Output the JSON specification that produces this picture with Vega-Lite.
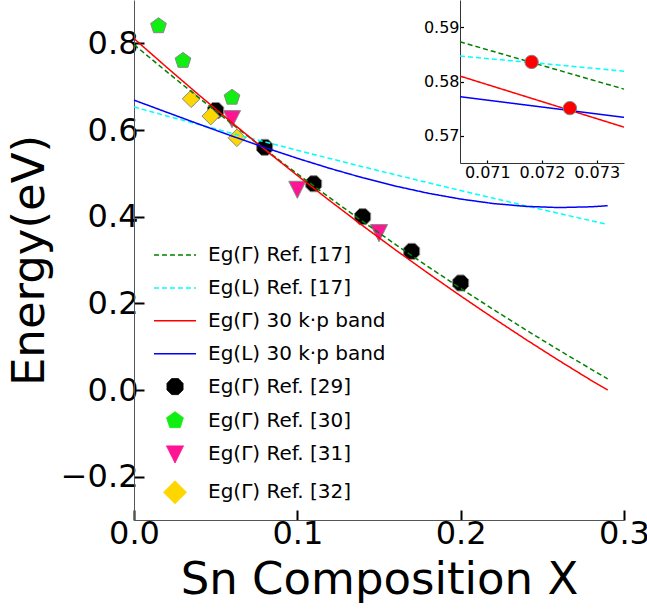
{
  "$schema": "https://vega.github.io/schema/vega-lite/v6.json",
  "width": 490,
  "height": 520,
  "autosize": {"type": "none"},
  "padding": {"left": 134, "top": 0, "right": 23, "bottom": 90},
  "config": {"font": "DejaVu Sans", "view": {"stroke": null}, "axis": {"grid": false, "labelFont": "DejaVu Sans", "titleFont": "DejaVu Sans"}, "legend": {"labelFont": "DejaVu Sans", "labelLimit": 0}},
  "datasets": {
    "lines": [
      {"s": "Eg(Γ) Ref. [17]", "x": 0, "y": 0.797}, {"s": "Eg(Γ) Ref. [17]", "x": 0.02, "y": 0.7346}, {"s": "Eg(Γ) Ref. [17]", "x": 0.04, "y": 0.6736}, {"s": "Eg(Γ) Ref. [17]", "x": 0.06, "y": 0.6137}, {"s": "Eg(Γ) Ref. [17]", "x": 0.08, "y": 0.5557}, {"s": "Eg(Γ) Ref. [17]", "x": 0.10, "y": 0.4988}, {"s": "Eg(Γ) Ref. [17]", "x": 0.12, "y": 0.4432}, {"s": "Eg(Γ) Ref. [17]", "x": 0.14, "y": 0.3890}, {"s": "Eg(Γ) Ref. [17]", "x": 0.16, "y": 0.3362}, {"s": "Eg(Γ) Ref. [17]", "x": 0.18, "y": 0.2847}, {"s": "Eg(Γ) Ref. [17]", "x": 0.20, "y": 0.2346}, {"s": "Eg(Γ) Ref. [17]", "x": 0.22, "y": 0.1858}, {"s": "Eg(Γ) Ref. [17]", "x": 0.24, "y": 0.1384}, {"s": "Eg(Γ) Ref. [17]", "x": 0.26, "y": 0.0924}, {"s": "Eg(Γ) Ref. [17]", "x": 0.28, "y": 0.0477}, {"s": "Eg(Γ) Ref. [17]", "x": 0.29, "y": 0.0259},
      {"s": "Eg(L) Ref. [17]", "x": 0, "y": 0.653}, {"s": "Eg(L) Ref. [17]", "x": 0.02, "y": 0.6325}, {"s": "Eg(L) Ref. [17]", "x": 0.04, "y": 0.6124}, {"s": "Eg(L) Ref. [17]", "x": 0.06, "y": 0.5924}, {"s": "Eg(L) Ref. [17]", "x": 0.08, "y": 0.5728}, {"s": "Eg(L) Ref. [17]", "x": 0.10, "y": 0.5533}, {"s": "Eg(L) Ref. [17]", "x": 0.12, "y": 0.5342}, {"s": "Eg(L) Ref. [17]", "x": 0.14, "y": 0.5153}, {"s": "Eg(L) Ref. [17]", "x": 0.16, "y": 0.4967}, {"s": "Eg(L) Ref. [17]", "x": 0.18, "y": 0.4784}, {"s": "Eg(L) Ref. [17]", "x": 0.20, "y": 0.4603}, {"s": "Eg(L) Ref. [17]", "x": 0.22, "y": 0.4425}, {"s": "Eg(L) Ref. [17]", "x": 0.24, "y": 0.4249}, {"s": "Eg(L) Ref. [17]", "x": 0.26, "y": 0.4076}, {"s": "Eg(L) Ref. [17]", "x": 0.28, "y": 0.3906}, {"s": "Eg(L) Ref. [17]", "x": 0.29, "y": 0.3821},
      {"s": "Eg(Γ) 30 k·p band", "x": 0, "y": 0.811}, {"s": "Eg(Γ) 30 k·p band", "x": 0.02, "y": 0.7448}, {"s": "Eg(Γ) 30 k·p band", "x": 0.04, "y": 0.6800}, {"s": "Eg(Γ) 30 k·p band", "x": 0.06, "y": 0.6168}, {"s": "Eg(Γ) 30 k·p band", "x": 0.08, "y": 0.5552}, {"s": "Eg(Γ) 30 k·p band", "x": 0.10, "y": 0.4950}, {"s": "Eg(Γ) 30 k·p band", "x": 0.12, "y": 0.4364}, {"s": "Eg(Γ) 30 k·p band", "x": 0.14, "y": 0.3792}, {"s": "Eg(Γ) 30 k·p band", "x": 0.16, "y": 0.3236}, {"s": "Eg(Γ) 30 k·p band", "x": 0.18, "y": 0.2696}, {"s": "Eg(Γ) 30 k·p band", "x": 0.20, "y": 0.2170}, {"s": "Eg(Γ) 30 k·p band", "x": 0.22, "y": 0.1660}, {"s": "Eg(Γ) 30 k·p band", "x": 0.24, "y": 0.1164}, {"s": "Eg(Γ) 30 k·p band", "x": 0.26, "y": 0.0684}, {"s": "Eg(Γ) 30 k·p band", "x": 0.28, "y": 0.0220}, {"s": "Eg(Γ) 30 k·p band", "x": 0.29, "y": 0.0},
      {"s": "Eg(L) 30 k·p band", "x": 0, "y": 0.669}, {"s": "Eg(L) 30 k·p band", "x": 0.02, "y": 0.6410}, {"s": "Eg(L) 30 k·p band", "x": 0.04, "y": 0.6132}, {"s": "Eg(L) 30 k·p band", "x": 0.06, "y": 0.5860}, {"s": "Eg(L) 30 k·p band", "x": 0.08, "y": 0.5597}, {"s": "Eg(L) 30 k·p band", "x": 0.10, "y": 0.5347}, {"s": "Eg(L) 30 k·p band", "x": 0.12, "y": 0.5113}, {"s": "Eg(L) 30 k·p band", "x": 0.14, "y": 0.4898}, {"s": "Eg(L) 30 k·p band", "x": 0.16, "y": 0.4707}, {"s": "Eg(L) 30 k·p band", "x": 0.18, "y": 0.4541}, {"s": "Eg(L) 30 k·p band", "x": 0.20, "y": 0.4406}, {"s": "Eg(L) 30 k·p band", "x": 0.22, "y": 0.4303}, {"s": "Eg(L) 30 k·p band", "x": 0.24, "y": 0.4237}, {"s": "Eg(L) 30 k·p band", "x": 0.26, "y": 0.4210}, {"s": "Eg(L) 30 k·p band", "x": 0.28, "y": 0.4228}, {"s": "Eg(L) 30 k·p band", "x": 0.29, "y": 0.4253}
    ],
    "points": [
      {"s": "Eg(Γ) Ref. [29]", "x": 0.05, "y": 0.645}, {"s": "Eg(Γ) Ref. [29]", "x": 0.08, "y": 0.56}, {"s": "Eg(Γ) Ref. [29]", "x": 0.11, "y": 0.476}, {"s": "Eg(Γ) Ref. [29]", "x": 0.14, "y": 0.40}, {"s": "Eg(Γ) Ref. [29]", "x": 0.17, "y": 0.32}, {"s": "Eg(Γ) Ref. [29]", "x": 0.20, "y": 0.247},
      {"s": "Eg(Γ) Ref. [30]", "x": 0.015, "y": 0.84}, {"s": "Eg(Γ) Ref. [30]", "x": 0.03, "y": 0.76}, {"s": "Eg(Γ) Ref. [30]", "x": 0.06, "y": 0.675},
      {"s": "Eg(Γ) Ref. [31]", "x": 0.06, "y": 0.625}, {"s": "Eg(Γ) Ref. [31]", "x": 0.10, "y": 0.462}, {"s": "Eg(Γ) Ref. [31]", "x": 0.15, "y": 0.362},
      {"s": "Eg(Γ) Ref. [32]", "x": 0.035, "y": 0.672}, {"s": "Eg(Γ) Ref. [32]", "x": 0.047, "y": 0.632}, {"s": "Eg(Γ) Ref. [32]", "x": 0.063, "y": 0.582}
    ],
    "insetLines": [
      {"s": "Eg(Γ) Ref. [17]", "x": 0.0705, "y": 0.5873}, {"s": "Eg(Γ) Ref. [17]", "x": 0.0735, "y": 0.5786},
      {"s": "Eg(L) Ref. [17]", "x": 0.0705, "y": 0.5847}, {"s": "Eg(L) Ref. [17]", "x": 0.0735, "y": 0.5819},
      {"s": "Eg(Γ) 30 k·p band", "x": 0.0705, "y": 0.5810}, {"s": "Eg(Γ) 30 k·p band", "x": 0.0735, "y": 0.5716},
      {"s": "Eg(L) 30 k·p band", "x": 0.0705, "y": 0.5772}, {"s": "Eg(L) 30 k·p band", "x": 0.0735, "y": 0.5734}
    ],
    "insetPoints": [
      {"x": 0.07181, "y": 0.5836}, {"x": 0.07251, "y": 0.5751}
    ]
  },
  "layer": [
    {
      "layer": [
        {
          "data": {"name": "points"},
          "mark": {"type": "point", "filled": true, "opacity": 1, "stroke": "#888888", "strokeWidth": 1},
          "encoding": {
            "x": {"field": "x", "type": "quantitative", "scale": {"domain": [0, 0.3], "nice": false, "zero": false},
              "axis": {"orient": "bottom", "values": [0, 0.1, 0.2, 0.3], "format": ".1f", "tickSize": -10, "tickWidth": 2, "tickColor": "black", "domainColor": "#555555", "domainWidth": 1, "labelFontSize": 32, "labelColor": "black", "labelPadding": 8, "labelFlush": false, "labelOverlap": false, "title": "Sn Composition X", "titleFontSize": 45, "titleFontWeight": "normal", "titleColor": "black", "titlePadding": 8}},
            "y": {"field": "y", "type": "quantitative", "scale": {"domain": [-0.3, 0.9], "nice": false, "zero": false},
              "axis": {"orient": "left", "values": [-0.2, 0, 0.2, 0.4, 0.6, 0.8], "format": ".1f", "tickSize": -10, "tickWidth": 2, "tickColor": "black", "domainColor": "#555555", "domainWidth": 1, "labelFontSize": 32, "labelColor": "black", "labelPadding": 6, "labelFlush": false, "labelOverlap": false, "title": "Energy(eV)", "titleFontSize": 45, "titleFontWeight": "normal", "titleColor": "black", "titlePadding": 8}},
            "color": {"field": "s", "type": "nominal",
              "scale": {"domain": ["Eg(Γ) Ref. [17]", "Eg(L) Ref. [17]", "Eg(Γ) 30 k·p band", "Eg(L) 30 k·p band", "Eg(Γ) Ref. [29]", "Eg(Γ) Ref. [30]", "Eg(Γ) Ref. [31]", "Eg(Γ) Ref. [32]"],
                        "range": ["#008000", "#00ffff", "#ff0000", "#0000ff", "#000000", "#11ee11", "#ff1493", "#ffd700"]},
              "legend": {"orient": "none", "legendX": 31, "legendY": 245, "padding": 0, "title": null, "labelFontSize": 20, "labelColor": "black", "labelLimit": 0, "symbolSize": 225, "labelOffset": 23, "rowPadding": 12.9,
                "encode": {"symbols": {"update": {
                  "size": {"signal": "datum.index < 4 ? 1764 : datum.index == 7 ? 530 : datum.index == 5 ? 310 : datum.index == 6 ? 290 : 256"},
                  "stroke": {"signal": "datum.index < 4 ? scale('color', datum.value) : '#888888'"},
                  "strokeDash": {"signal": "datum.index < 2 ? [5, 3] : [1, 0]"},
                  "strokeWidth": {"signal": "datum.index < 4 ? 1.5 : 1"},
                  "opacity": {"value": 1}
                }}}}},
            "shape": {"field": "s", "type": "nominal",
              "scale": {"domain": ["Eg(Γ) Ref. [17]", "Eg(L) Ref. [17]", "Eg(Γ) 30 k·p band", "Eg(L) 30 k·p band", "Eg(Γ) Ref. [29]", "Eg(Γ) Ref. [30]", "Eg(Γ) Ref. [31]", "Eg(Γ) Ref. [32]"],
                        "range": ["stroke", "stroke", "stroke", "stroke",
                                  "M-0.414,-1L0.414,-1L1,-0.414L1,0.414L0.414,1L-0.414,1L-1,0.414L-1,-0.414Z",
                                  "M0,-1L0.951,-0.309L0.588,0.809L-0.588,0.809L-0.951,-0.309Z",
                                  "M-1,-1L1,-1L0,1Z",
                                  "M0,-1L1,0L0,1L-1,0Z"]},
              "legend": {"orient": "none", "legendX": 31, "legendY": 245, "padding": 0, "title": null, "labelFontSize": 20, "labelColor": "black", "labelLimit": 0, "symbolSize": 225, "labelOffset": 23, "rowPadding": 12.9,
                "encode": {"symbols": {"update": {
                  "size": {"signal": "datum.index < 4 ? 1764 : datum.index == 7 ? 530 : datum.index == 5 ? 310 : datum.index == 6 ? 290 : 256"},
                  "stroke": {"signal": "datum.index < 4 ? scale('color', datum.value) : '#888888'"},
                  "strokeDash": {"signal": "datum.index < 2 ? [5, 3] : [1, 0]"},
                  "strokeWidth": {"signal": "datum.index < 4 ? 1.5 : 1"},
                  "opacity": {"value": 1}
                }}}}},
            "size": {"field": "s", "type": "nominal", "legend": null,
              "scale": {"domain": ["Eg(Γ) Ref. [29]", "Eg(Γ) Ref. [30]", "Eg(Γ) Ref. [31]", "Eg(Γ) Ref. [32]"], "range": [256, 310, 290, 530]}}
          }
        },
        {
          "data": {"name": "lines"},
          "mark": {"type": "line", "strokeWidth": 1.5},
          "encoding": {
            "x": {"field": "x", "type": "quantitative"},
            "y": {"field": "y", "type": "quantitative"},
            "color": {"field": "s", "type": "nominal",
              "legend": {"orient": "none", "legendX": 31, "legendY": 245, "padding": 0, "title": null, "labelFontSize": 20, "labelColor": "black", "labelLimit": 0, "symbolSize": 225, "labelOffset": 23, "rowPadding": 12.9,
                "encode": {"symbols": {"update": {
                  "size": {"signal": "datum.index < 4 ? 1764 : datum.index == 7 ? 530 : datum.index == 5 ? 310 : datum.index == 6 ? 290 : 256"},
                  "stroke": {"signal": "datum.index < 4 ? scale('color', datum.value) : '#888888'"},
                  "strokeDash": {"signal": "datum.index < 2 ? [5, 3] : [1, 0]"},
                  "strokeWidth": {"signal": "datum.index < 4 ? 1.5 : 1"},
                  "opacity": {"value": 1}
                }}}}},
            "strokeDash": {"field": "s", "type": "nominal", "legend": null,
              "scale": {"domain": ["Eg(Γ) Ref. [17]", "Eg(L) Ref. [17]", "Eg(Γ) 30 k·p band", "Eg(L) 30 k·p band"], "range": [[5, 3], [5, 3], [1, 0], [1, 0]]}}
          }
        },
        {
          "mark": {"type": "rule", "color": "black", "strokeWidth": 2},
          "encoding": {"x": {"datum": 0.3}}
        }
      ]
    },
    {
      "layer": [
        {
          "data": {"name": "insetLines"},
          "mark": {"type": "line", "strokeWidth": 1.5},
          "encoding": {
            "x": {"field": "x", "type": "quantitative", "scale": {"domain": [0.0705, 0.0735], "range": [326, 490], "nice": false, "zero": false},
              "axis": {"orient": "bottom", "offset": -357, "values": [0.071, 0.072, 0.073], "format": ".3f", "tickSize": -3, "tickWidth": 1.2, "tickColor": "black", "domainColor": "#333333", "labelFontSize": 16, "labelColor": "black", "labelPadding": 4, "labelFlush": false, "labelOverlap": false, "title": null}},
            "y": {"field": "y", "type": "quantitative", "scale": {"domain": [0.565, 0.595], "range": [163, 0], "nice": false, "zero": false},
              "axis": {"orient": "left", "offset": -326, "values": [0.57, 0.58, 0.59], "format": ".2f", "tickSize": -3.5, "tickWidth": 1.2, "tickColor": "black", "domainColor": "#333333", "labelFontSize": 16, "labelColor": "black", "labelPadding": 4.5, "labelFlush": false, "labelOverlap": false, "title": null}},
            "color": {"field": "s", "type": "nominal", "legend": null},
            "strokeDash": {"field": "s", "type": "nominal", "legend": null}
          }
        },
        {
          "data": {"name": "insetPoints"},
          "mark": {"type": "point", "shape": "circle", "filled": true, "opacity": 1, "color": "#ff0000", "stroke": "#888888", "strokeWidth": 1, "size": 180},
          "encoding": {
            "x": {"field": "x", "type": "quantitative"},
            "y": {"field": "y", "type": "quantitative"}
          }
        }
      ]
    }
  ],
  "resolve": {"scale": {"x": "independent", "y": "independent"}, "axis": {"x": "independent", "y": "independent"}}
}
